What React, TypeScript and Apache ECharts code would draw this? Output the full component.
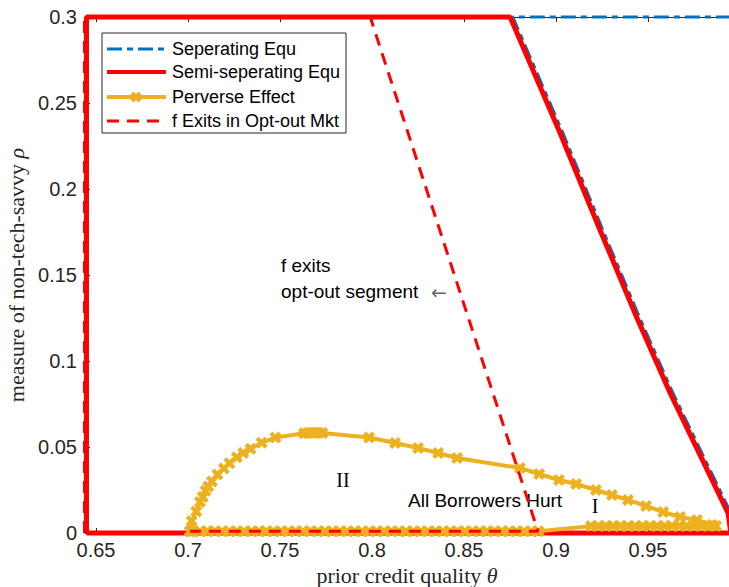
import React, { useEffect, useRef } from 'react';
import * as echarts from 'echarts';

// ---- data ----
const separatingTheta = [0.9950, 0.8765, 0.9037, 0.9254, 0.9455, 0.9635, 0.9798, 0.9950];
const separatingRho = [0.3, 0.3, 0.2326, 0.1762, 0.1250, 0.0814, 0.0453, 0.0116];

const semiTheta = [0.6448, 0.6448, 0.8750, 0.9022, 0.9239, 0.9440, 0.9620, 0.9783, 0.9935, 0.9950, 0.6448];
const semiRho = [0, 0.3, 0.3, 0.2326, 0.1762, 0.1250, 0.0814, 0.0453, 0.0116, 0, 0];

const perverseTheta = [
  0.7010, 0.7020, 0.7045, 0.7065, 0.7080, 0.7095, 0.7110, 0.7130, 0.7160, 0.7195, 0.7225, 0.7265,
  0.7300, 0.7340, 0.7400, 0.7475, 0.7630, 0.7650, 0.7670, 0.7690, 0.7710, 0.7730,
  0.7984, 0.8125, 0.8250, 0.8359, 0.8462, 0.8804, 0.8908, 0.9016, 0.9109, 0.9217, 0.9304,
  0.9391, 0.9489, 0.9582, 0.9674, 0.9766, 0.9848,
  0.9870, 0.9830, 0.9790, 0.9750, 0.9710, 0.9670, 0.9630, 0.9590, 0.9550, 0.9510, 0.9470,
  0.9430, 0.9390, 0.9350, 0.9310, 0.9270, 0.9230, 0.9190,
  0.8905, 0.8865, 0.8825, 0.8785, 0.8745, 0.8705, 0.8665, 0.8625, 0.8585, 0.8545, 0.8505,
  0.8465, 0.8425, 0.8385, 0.8345, 0.8305, 0.8265, 0.8225, 0.8185, 0.8145, 0.8105, 0.8065,
  0.8025, 0.7985, 0.7945, 0.7905, 0.7865, 0.7825, 0.7785, 0.7745, 0.7705, 0.7665, 0.7625,
  0.7585, 0.7545, 0.7505, 0.7465, 0.7425, 0.7385, 0.7345, 0.7305, 0.7265, 0.7225, 0.7185,
  0.7145, 0.7105, 0.7065, 0.7025, 0.7010,
];
const perverseRho = [
  0.0010, 0.0070, 0.0125, 0.0180, 0.0210, 0.0245, 0.0270, 0.0300, 0.0340, 0.0375, 0.0405, 0.0440,
  0.0465, 0.0490, 0.0525, 0.0555, 0.0580, 0.0582, 0.0583, 0.0583, 0.0583, 0.0582,
  0.0555, 0.0523, 0.0494, 0.0465, 0.0436, 0.0378, 0.0343, 0.0308, 0.0285, 0.0250, 0.0221,
  0.0192, 0.0157, 0.0122, 0.0093, 0.0076, 0.0047,
  0.0040, 0.0040, 0.0040, 0.0040, 0.0040, 0.0040, 0.0040, 0.0040, 0.0040, 0.0040, 0.0040,
  0.0040, 0.0040, 0.0040, 0.0040, 0.0040, 0.0040, 0.0040,
  0.0010, 0.0010, 0.0010, 0.0010, 0.0010, 0.0010, 0.0010, 0.0010, 0.0010, 0.0010, 0.0010,
  0.0010, 0.0010, 0.0010, 0.0010, 0.0010, 0.0010, 0.0010, 0.0010, 0.0010, 0.0010, 0.0010,
  0.0010, 0.0010, 0.0010, 0.0010, 0.0010, 0.0010, 0.0010, 0.0010, 0.0010, 0.0010, 0.0010,
  0.0010, 0.0010, 0.0010, 0.0010, 0.0010, 0.0010, 0.0010, 0.0010, 0.0010, 0.0010, 0.0010,
  0.0010, 0.0010, 0.0010, 0.0010, 0.0010,
];

const exitTheta = [0.6436, 0.6436, 0.7990, 0.8902, 0.7010];
const exitRho = [0, 0.3, 0.3, 0.0010, 0.0010];

const legendNames = ['Seperating Equ', 'Semi-seperating Equ', 'Perverse Effect', 'f Exits in Opt-out Mkt'];
const xRange = [0.644, 0.994];
const yRange = [0, 0.3];

const BLUE = '#0072BD';
const RED = '#FF0000';
const YELLOW = '#EDB120';
const AX = '#262626';
const SANS = '"Liberation Sans", Arial, Helvetica, sans-serif';
const SERIF = '"Liberation Serif", "Times New Roman", serif';

const pairs = (a: number[], b: number[]) => a.map((v, i) => [v, b[i]]);
const crossPath = 'path://M0,3L3,0L6,3L9,0L12,3L9,6L12,9L9,12L6,9L3,12L0,9L3,6Z';

export default function App() {
  const ref = useRef<HTMLDivElement>(null);
  useEffect(() => {
    document.body.style.margin = '0';
    const chart = echarts.init(ref.current as HTMLDivElement, null, { renderer: 'svg' });
    const xLabelFmt = (v: number) => {
      const k = v * 20;
      return Math.abs(k - Math.round(k)) < 1e-6 ? String(+v.toFixed(2)) : '';
    };
    const legendY = [49, 72, 97, 121];
    const txt = (text: string, x: number, y: number, font: string, align = 'left', fill = '#000', z = 101) => ({
      type: 'text', z, x, y,
      style: { text, font, fill, align, textAlign: align, verticalAlign: 'middle', textVerticalAlign: 'middle' },
    });
    const option: any = {
      animation: false,
      backgroundColor: '#ffffff',
      grid: { left: 85, right: 0, top: 17, bottom: 54, containLabel: false, outerBoundsMode: 'none' },
      xAxis: [
        {
          type: 'value',
          min: xRange[0],
          max: xRange[1],
          splitNumber: 7,
          position: 'bottom',
          axisLine: { show: true, lineStyle: { color: AX, width: 1 } },
          axisTick: { show: true, inside: true, length: 5, lineStyle: { color: AX } },
          axisLabel: {
            show: true, margin: 7, color: AX, fontFamily: SANS, fontSize: 20,
            showMinLabel: false, showMaxLabel: false, formatter: xLabelFmt,
          },
          splitLine: { show: false },
          name: '{a|prior credit quality }{b|θ}',
          nameLocation: 'middle',
          nameGap: 31,
          nameTextStyle: {
            rich: {
              a: { fontFamily: SERIF, fontSize: 22, color: AX },
              b: { fontFamily: SERIF, fontSize: 22, fontStyle: 'italic', color: AX },
            },
          },
        },
        {
          type: 'value',
          min: xRange[0],
          max: xRange[1],
          splitNumber: 7,
          position: 'top',
          axisLine: { show: true, lineStyle: { color: AX, width: 1 } },
          axisTick: { show: true, inside: true, length: 5, lineStyle: { color: AX } },
          axisLabel: { show: false },
          splitLine: { show: false },
        },
      ],
      yAxis: {
        type: 'value',
        min: yRange[0],
        max: yRange[1],
        interval: 0.05,
        axisLine: { show: true, lineStyle: { color: AX, width: 1 } },
        axisTick: { show: true, inside: true, length: 5, lineStyle: { color: AX } },
        axisLabel: { show: true, margin: 8, color: AX, fontFamily: SANS, fontSize: 20 },
        splitLine: { show: false },
        name: '{a|measure of non-tech-savvy }{b|ρ}',
        nameLocation: 'middle',
        nameGap: 57,
        nameTextStyle: {
          rich: {
            a: { fontFamily: SERIF, fontSize: 22, color: AX },
            b: { fontFamily: SERIF, fontSize: 22, fontStyle: 'italic', color: AX },
          },
        },
      },
      series: [
        {
          name: legendNames[0], type: 'line', data: pairs(separatingTheta, separatingRho),
          symbol: 'none', clip: false, silent: true, z: 2,
          lineStyle: { color: BLUE, width: 3, type: [15, 5, 6, 5] },
        },
        {
          name: legendNames[1], type: 'line', data: pairs(semiTheta, semiRho),
          symbol: 'none', clip: false, silent: true, z: 3,
          lineStyle: { color: RED, width: 5, type: 'solid' },
        },
        {
          name: legendNames[2], type: 'line', data: pairs(perverseTheta, perverseRho),
          symbol: crossPath, symbolSize: 12, showSymbol: true, showAllSymbol: true, clip: false, silent: true, z: 4,
          itemStyle: { color: YELLOW },
          lineStyle: { color: YELLOW, width: 4 },
        },
        {
          name: legendNames[3], type: 'line', data: pairs(exitTheta, exitRho),
          symbol: 'none', clip: false, silent: true, z: 5,
          lineStyle: { color: RED, width: 3, type: [12, 8] },
        },
      ],
      graphic: [
        { type: 'rect', z: 100, shape: { x: 102, y: 33, width: 244, height: 100 }, style: { fill: '#fff', stroke: AX, lineWidth: 1 } },
        { type: 'line', z: 101, shape: { x1: 107, y1: legendY[0], x2: 166, y2: legendY[0] }, style: { stroke: BLUE, lineWidth: 3, lineDash: [15, 5, 6, 5] } },
        { type: 'line', z: 101, shape: { x1: 107, y1: legendY[1], x2: 166, y2: legendY[1] }, style: { stroke: RED, lineWidth: 4 } },
        { type: 'line', z: 101, shape: { x1: 107, y1: legendY[2], x2: 166, y2: legendY[2] }, style: { stroke: YELLOW, lineWidth: 4 } },
        { type: 'line', z: 102, shape: { x1: 132, y1: legendY[2] - 4, x2: 140, y2: legendY[2] + 4 }, style: { stroke: YELLOW, lineWidth: 4 } },
        { type: 'line', z: 102, shape: { x1: 132, y1: legendY[2] + 4, x2: 140, y2: legendY[2] - 4 }, style: { stroke: YELLOW, lineWidth: 4 } },
        { type: 'line', z: 101, shape: { x1: 107, y1: legendY[3], x2: 166, y2: legendY[3] }, style: { stroke: RED, lineWidth: 3, lineDash: [12, 8] } },
        ...legendNames.map((n, i) => txt(n, 172, legendY[i], `18px ${SANS}`)),
        txt('f exits', 281, 265, `19px ${SANS}`),
        txt('opt-out segment', 281, 291, `19px ${SANS}`),
        txt('←', 431, 292, `19px "DejaVu Sans", ${SANS}`, 'left', '#666'),
        txt('II', 343, 480, `20px ${SERIF}`, 'center'),
        txt('All Borrowers Hurt', 408, 500, `19px ${SANS}`, 'left', '#000', 1),
        txt('I', 595, 506, `20px ${SERIF}`, 'center'),
      ],
    };
    chart.setOption(option);
    return () => chart.dispose();
  }, []);
  return <div ref={ref} style={{ width: 729, height: 587 }} />;
}
